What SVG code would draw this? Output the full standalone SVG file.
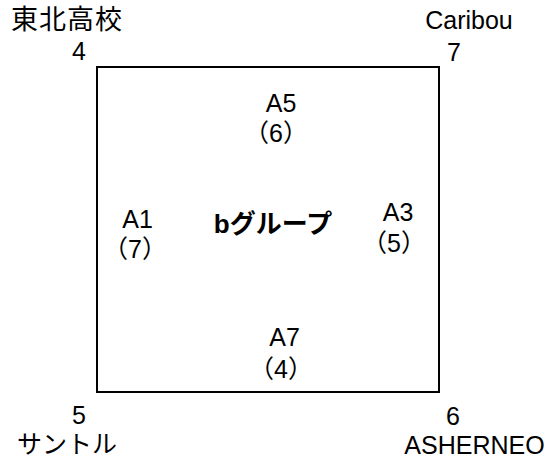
<svg xmlns="http://www.w3.org/2000/svg" width="555" height="459" viewBox="0 0 555 459">
<style>
  text { font-family: "Liberation Sans", "Noto Sans CJK JP", sans-serif; font-size: 25px; fill: #000; }
  .m { text-anchor: middle; }
  .b { font-weight: bold; font-size: 26px; }
  .box { fill: #fff; stroke: #000; stroke-width: 2; }
</style>
<rect width="555" height="459" fill="#fff"/>
<g id="group-b">
  <rect class="box" x="97" y="67" width="342" height="325"/>
  <text class="m b" x="273" y="233">bグループ</text>
</g>
<g id="corner-4">
  <text x="11" y="29" style="font-size:27px" letter-spacing="1">東北高校</text>
  <text class="m" x="79" y="60">4</text>
</g>
<g id="corner-7">
  <text class="m" x="469" y="29">Caribou</text>
  <text class="m" x="454" y="61">7</text>
</g>
<g id="corner-5">
  <text class="m" x="79" y="424">5</text>
  <text x="17" y="453">サントル</text>
</g>
<g id="corner-6">
  <text class="m" x="453" y="425">6</text>
  <text class="m" x="474.5" y="454">ASHERNEO</text>
</g>
<g id="A5">
  <text class="m" x="281" y="112">A5</text>
  <text class="m" x="276" y="142">（6）</text>
</g>
<g id="A1">
  <text class="m" x="137.5" y="228">A1</text>
  <text class="m" x="135" y="258">（7）</text>
</g>
<g id="A3">
  <text class="m" x="398" y="221">A3</text>
  <text class="m" x="394" y="252">（5）</text>
</g>
<g id="A7">
  <text class="m" x="284.5" y="346">A7</text>
  <text class="m" x="281" y="378">（4）</text>
</g>
<g id="connectors"></g>
</svg>
